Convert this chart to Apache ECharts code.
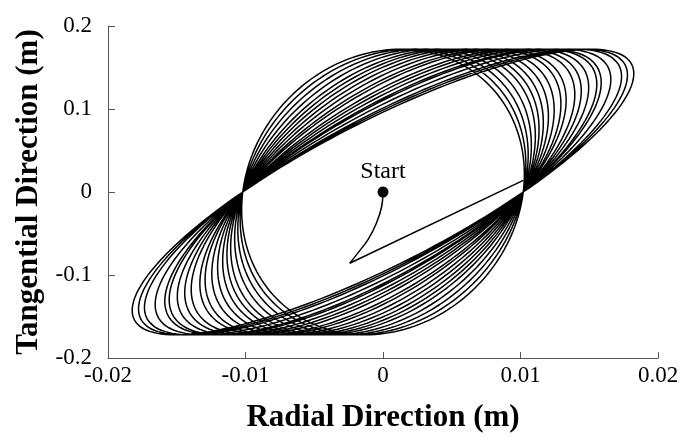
<!DOCTYPE html>
<html>
<head>
<meta charset="utf-8">
<script src="https://cdn.jsdelivr.net/npm/echarts@6/dist/echarts.min.js"></script>
<style>
  html, body { margin: 0; padding: 0; background: #fff; }
  #chart { width: 684px; height: 438px; }
</style>
</head>
<body>
<div id="chart"></div>
<script>
// Orbit of the point in the radial / tangential plane.
// Every loop passes through the two nodes (±nodeX, 0) and peaks at ±peakY;
// each loop leans a bit further, reaching out to loopReach on the radial axis.
const nodeX = 0.0102;
const peakY = 0.172;
const loopReach = [0.01028, 0.01039, 0.01056, 0.01079, 0.01108, 0.01135, 0.01166,
                   0.01203, 0.01245, 0.01294, 0.01332, 0.01395, 0.01442, 0.01496,
                   0.01555, 0.01587, 0.01657, 0.01735, 0.01778, 0.01824];

// Initial transient from the starting point.
const approachX = [0, -0.0001, -0.00048, -0.00109, -0.00182, -0.00242];
const approachY = [0, -0.0178, -0.0376, -0.0574, -0.0733, -0.0859];
const legX = [-0.00242, 0.0102];
const legY = [-0.0859, 0.014];

const startPoint = [0, 0];

const xTicks = { min: -0.02, max: 0.02, step: 0.01 };
const yTicks = { min: -0.2, max: 0.2, step: 0.1 };

// Trace the loops one after another, each starting and ending at the right node.
const orbit = [];
loopReach.forEach(function (reach) {
  const lean = Math.acos(nodeX / reach);
  for (let deg = 0; deg <= 360; deg += 2) {
    const t = deg * Math.PI / 180 - lean;
    orbit.push([reach * Math.cos(t), peakY * Math.sin(t + lean)]);
  }
});

const approach = approachX.map(function (x, i) { return [x, approachY[i]]; });
const leg = legX.map(function (x, i) { return [x, legY[i]]; });

const serif = '"Liberation Serif", "Times New Roman", serif';
const axisColor = '#555';

const chart = echarts.init(document.getElementById('chart'));
chart.setOption({
  animation: false,
  backgroundColor: '#fff',
  grid: { left: 108, right: 26, top: 26, bottom: 76 },
  xAxis: {
    type: 'value',
    min: xTicks.min, max: xTicks.max, interval: xTicks.step,
    name: 'Radial Direction (m)',
    nameLocation: 'middle',
    nameGap: 44,
    nameTextStyle: { fontFamily: serif, fontWeight: 'bold', fontSize: 31, color: '#000' },
    axisLine: { onZero: false, lineStyle: { color: axisColor, width: 1 } },
    axisTick: { inside: true, length: 6, lineStyle: { color: axisColor } },
    axisLabel: { fontFamily: serif, fontSize: 23, color: '#000', margin: 6 },
    splitLine: { show: false }
  },
  yAxis: {
    type: 'value',
    min: yTicks.min, max: yTicks.max, interval: yTicks.step,
    name: 'Tangential Direction (m)',
    nameLocation: 'middle',
    nameGap: 62,
    nameRotate: 90,
    nameTextStyle: { fontFamily: serif, fontWeight: 'bold', fontSize: 31, color: '#000' },
    axisLine: { show: true, onZero: false, lineStyle: { color: axisColor, width: 1 } },
    axisTick: { show: true, inside: true, length: 7, lineStyle: { color: axisColor } },
    axisLabel: { fontFamily: serif, fontSize: 23, color: '#000', margin: 16 },
    splitLine: { show: false }
  },
  series: [
    {
      type: 'line',
      data: orbit,
      showSymbol: false,
      clip: false,
      lineStyle: { color: '#000', width: 1.5 }
    },
    {
      type: 'line',
      data: approach,
      smooth: 0.4,
      showSymbol: false,
      lineStyle: { color: '#000', width: 1.5 }
    },
    {
      type: 'line',
      data: leg,
      showSymbol: false,
      lineStyle: { color: '#000', width: 1.5 }
    },
    {
      type: 'scatter',
      data: [startPoint],
      symbolSize: 11,
      itemStyle: { color: '#000', opacity: 1 },
      label: {
        show: true,
        position: 'top',
        distance: 3,
        formatter: 'Start',
        fontFamily: serif,
        fontSize: 24,
        color: '#000',
        opacity: 1
      },
      emphasis: { disabled: true },
      z: 5
    }
  ]
});
</script>
</body>
</html>
